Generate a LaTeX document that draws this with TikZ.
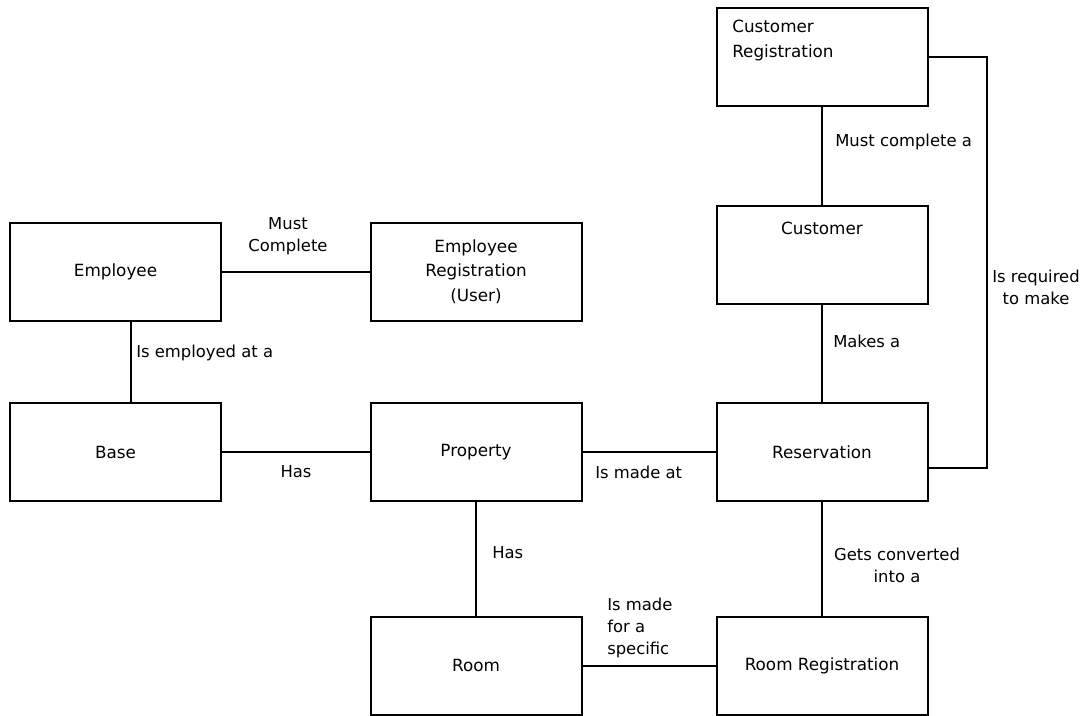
\documentclass[tikz,border=0pt]{standalone}
\usepackage{fontspec}
\setmainfont{DejaVu Sans}
\begin{document}
\begin{tikzpicture}[x=0.75pt,y=-0.75pt,
  box/.style={draw,line width=1.5pt,minimum width=158.25pt,minimum height=73.5pt,inner sep=0pt,align=center,
    font=\fontsize{12.6pt}{18.4pt}\selectfont},
  lbl/.style={inner sep=0pt,align=center,font=\fontsize{12.3pt}{16.5pt}\selectfont},
  conn/.style={line width=1.5pt}]
\useasboundingbox (0,0) rectangle (1087,715);
% boxes
\node[box] (emp) at (115.5,271.5) {Employee};
\node[box] (empreg) at (476,271.5) {Employee\\Registration\\(User)};
\node[box] (base) at (115.5,452) {Base};
\node[box] (prop) at (476,452) {Property};
\node[box] (res) at (822,452) {Reservation};
\node[box] (custreg) at (822,57) {};
\node[box] (cust) at (822,255) {};
\node[box] (room) at (476,665.5) {Room};
\node[box] (roomreg) at (822,665.5) {Room Registration};
\node[inner sep=0pt,anchor=west,align=left,font=\fontsize{12.6pt}{18.6pt}\selectfont] (custregt) at (732,40.5) {Customer\\Registration};
\node[inner sep=0pt,font=\fontsize{12.6pt}{18.4pt}\selectfont] (custt) at (822,228) {Customer};
% helper coordinates
\coordinate (c1) at (131,0);
\coordinate (rr) at (987,468);
% connectors
\draw[conn] (emp.east) -- (empreg.west);
\draw[conn] (emp.south -| c1) -- (base.north -| c1);
\draw[conn] (base.east) -- (prop.west);
\draw[conn] (prop.east) -- (res.west);
\draw[conn] (prop.south) -- (room.north);
\draw[conn] (custreg.south) -- (cust.north);
\draw[conn] (cust.south) -- (res.north);
\draw[conn] (res.south) -- (roomreg.north);
\draw[conn] (room.east) -- (roomreg.west);
\draw[conn] (custreg.east) -| (rr) -- (res.east |- rr);
% labels
\node[lbl] (l1) at (288,236) {Must\\Complete};
\node[lbl,anchor=west] (l2) at (136,353) {Is employed at a};
\node[lbl] (l3) at (296,472) {Has};
\node[lbl,anchor=west] (l4) at (595,472) {Is made at};
\node[lbl,anchor=west] (l5) at (492,553) {Has};
\node[lbl,anchor=west,align=left] (l6) at (607,628) {Is made\\for a\\specific};
\node[lbl] (l7) at (897,565) {Gets converted\\into a};
\node[lbl,anchor=west] (l8) at (833,341) {Makes a};
\node[lbl,anchor=west] (l9) at (835,142) {Must complete a};
\node[lbl] (l10) at (1036,287.5) {Is required\\to make};
\end{tikzpicture}
\end{document}
